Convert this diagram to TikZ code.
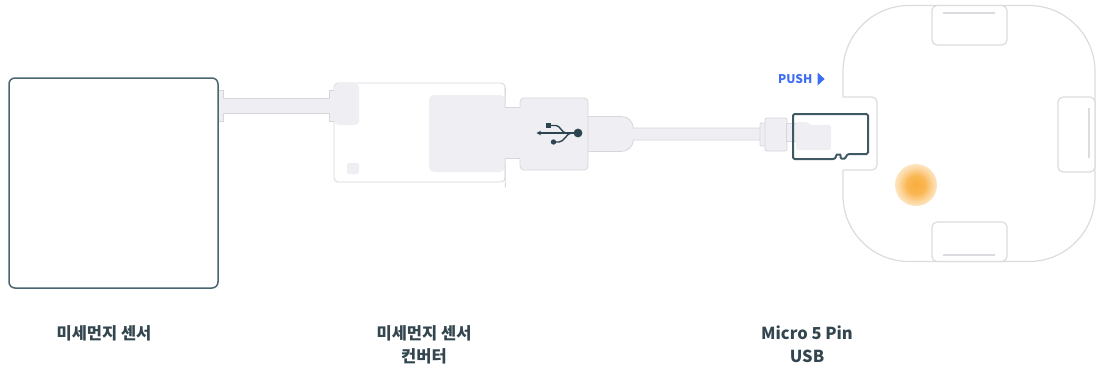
\documentclass[tikz,border=0pt]{standalone}
\usepackage{fontspec}
\newfontfamily\kr{Noto Sans CJK KR}
\usetikzlibrary{arrows.meta}

\definecolor{slate}{HTML}{4B6570}
\definecolor{cardline}{HTML}{3F5964}
\definecolor{ink}{HTML}{2C4450}
\definecolor{txt}{HTML}{33464F}
\definecolor{plastic}{HTML}{EFEFF3}
\definecolor{rim}{HTML}{D6D6DB}
\definecolor{shellc}{HTML}{DCDCE0}
\definecolor{pushblue}{HTML}{3D6DF2}
\definecolor{glowc}{HTML}{F9AD3C}

\pgfdeclareradialshading{ledglow}{\pgfpoint{0bp}{0bp}}{%
  color(0bp)=(glowc); color(11bp)=(glowc!88!white); color(21bp)=(glowc!45!white);
  color(31bp)=(glowc!15!white); color(41bp)=(glowc!4!white); color(50bp)=(white)}

\begin{document}
\begin{tikzpicture}[x=1pt,y=-1pt,
  rimline/.style={draw=rim, line width=0.8pt},
  part/.style={fill=plastic, draw=rim, line width=0.8pt},
  sensorbox/.style={draw=slate, line width=1.5pt, fill=white, rounded corners=6pt,
    minimum width=209pt, minimum height=210pt, inner sep=0pt},
  convbox/.style={draw=rim, line width=0.8pt, fill=white, rounded corners=4pt,
    minimum width=171pt, minimum height=99pt, inner sep=0pt},
  plugbody/.style={part, rounded corners=4pt, minimum width=68pt, minimum height=72pt, inner sep=0pt},
  card/.style={draw=cardline, line width=2pt, rounded corners=1.5pt},
  shell/.style={draw=shellc, line width=1.2pt},
  tab/.style={fill=white, draw=shellc, line width=1.2pt, rounded corners=5pt},
  usbsym/.style={draw=ink, line width=1.4pt},
  label/.style={font=\kr\bfseries\fontsize{16.5pt}{23pt}\selectfont, text=txt, align=center},
  pushtxt/.style={font=\kr\bfseries\fontsize{12pt}{14pt}\selectfont, text=pushblue, inner sep=0pt}
]
\useasboundingbox (0,0) rectangle (1096,372);

% ---------- converter housing ----------
\node[convbox] (conv) at (419.5,132.5) {};

% ---------- sensor cable ----------
\path[fill=plastic] (217,90.5) -- (223.5,90.5) -- (223.5,98.5) -- (329.5,98.5) -- (329.5,90.5)
  -- (337,90.5) -- (337,121.5) -- (329.5,121.5) -- (329.5,113.5) -- (223.5,113.5)
  -- (223.5,121.5) -- (217,121.5) -- cycle;
\draw[rimline] (217,90.5) -- (223.5,90.5) -- (223.5,98.5) -- (329.5,98.5) -- (329.5,90.5) -- (337,90.5);
\draw[rimline] (217,121.5) -- (223.5,121.5) -- (223.5,113.5) -- (329.5,113.5) -- (329.5,121.5) -- (337,121.5);

% ---------- sensor ----------
\node[sensorbox] (sensor) at (113.5,183) {};

% ---------- converter parts ----------
\fill[plastic, rounded corners=4pt] (334.4,83.4) rectangle (359,125);
\fill[plastic, rounded corners=2pt] (347,163) rectangle (359,174);
\fill[plastic, rounded corners=5pt] (429,95) rectangle (505,172);

% cable to the board, with the plug nose
\path[fill=plastic] (586,116.5) -- (621,116.5) .. controls (628,116.5) and (633,121.5) .. (633.5,128)
  -- (762,128) -- (762,140) -- (633.5,140) .. controls (633,146.5) and (628,151.5) .. (621,151.5)
  -- (586,151.5) -- cycle;
\draw[rimline] (587,116.5) -- (621,116.5) .. controls (628,116.5) and (633,121.5) .. (633.5,128) -- (762,128);
\draw[rimline] (587,151.5) -- (621,151.5) .. controls (628,151.5) and (633,146.5) .. (633.5,140) -- (762,140);

% USB-A plug body and neck
\node[plugbody] (plug) at (554,134) {};
\fill[plastic] (504,107.5) rectangle (521.5,158.5);
\draw[rimline] (505,107.5) -- (520.4,107.5);
\draw[rimline] (505,158.5) -- (520.4,158.5);
\draw[rimline] (conv.north east) ++(0,5) -- (505,107.5);
\draw[rimline] (505,158.5) -- ([yshift=-5pt]conv.south east);

% USB symbol
\draw[usbsym, -{Stealth[length=4.5pt,width=4.5pt]}] (578,133) -- (536.5,133);
\fill[ink] (578,133) circle (4.4pt);
\draw[usbsym] (566,133) .. controls (562,133) and (560,125.5) .. (556,125.5) -- (550,125.5);
\fill[ink] (545.5,123) rectangle (550.5,128);
\draw[usbsym] (571,133) .. controls (567,133) and (564,142) .. (559,142) -- (554,142);
\fill[ink] (553.5,142) circle (2.7pt);

% ---------- micro USB plug ----------
\draw[part, rounded corners=1pt] (760,123) rectangle (766,146);
\draw[part, rounded corners=2pt] (765,118) rectangle (787,151);
\draw[part] (786.5,123) rectangle (796,141);

% ---------- board ----------
\draw[shell, rounded corners=66pt] (843,97) -- (843,5.5) -- (1095,5.5) -- (1095,261.5) -- (843,261.5) -- (843,170);
\draw[shell, rounded corners=5pt] (843,97) -- (877,97) -- (877,170) -- (843,170);

\draw[tab] (932,5.5) rectangle (1007,45);
\draw[shell] (943,13) -- (995,13);
\draw[tab] (932,222) rectangle (1007,261.5);
\draw[shell] (943,255) -- (995,255);
\draw[tab] (1058,97) rectangle (1095,172);
\draw[shell] (1089,108) -- (1089,158);

\shade[shading=ledglow] (916,185) circle (21pt);

% microSD slot contents and card
\fill[plastic, rounded corners=2pt] (796,122) -- (808,122) -- (810,125) -- (831,125) -- (831,150) -- (796,150) -- cycle;
\draw[card] (833,159) -- (793,159) -- (793,114) -- (868,114) -- (868,154) -- (851,154)
  .. controls (846,154) and (846,158.5) .. (843,158.5)
  .. controls (840,158.5) and (841,154.5) .. (838.5,154.5)
  .. controls (836,154.5) and (836.5,159) .. (833,159);

% push hint
\node[pushtxt, anchor=west] (push) at (778,79) {PUSH};
\fill[pushblue] ([xshift=5pt]push.east |- 0,72.5) -- ([xshift=12pt]push.east |- 0,79) -- ([xshift=5pt]push.east |- 0,85.5) -- cycle;

% ---------- labels ----------
\node[label] (lblsensor) at (104,333) {미세먼지 센서};
\node[label] (lblconv) at (424,344.5) {미세먼지 센서\\컨버터};
\node[label] (lblusb) at (807,344.5) {Micro 5 Pin\\USB};
\end{tikzpicture}
\end{document}
